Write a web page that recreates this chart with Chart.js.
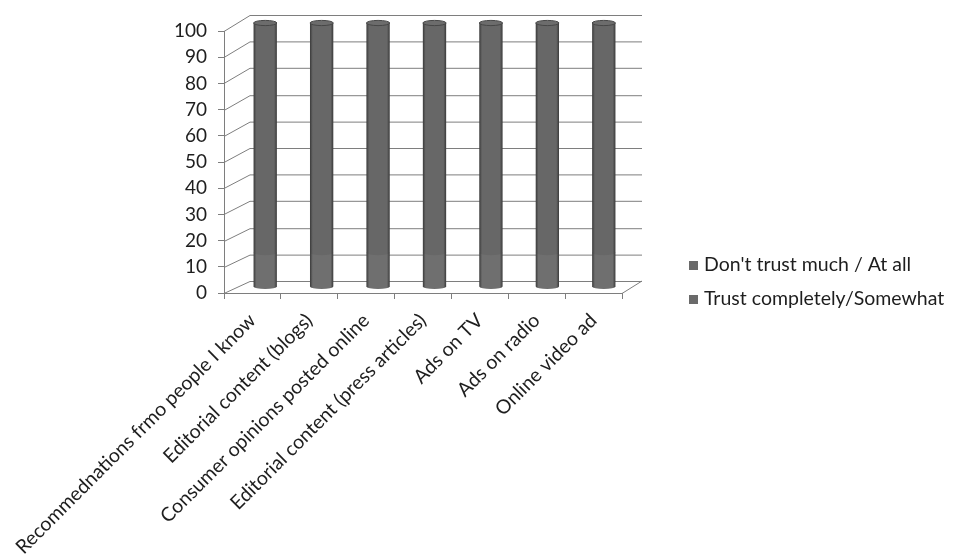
<!DOCTYPE html>
<html>
<head>
<meta charset="utf-8">
<script src="https://cdn.jsdelivr.net/npm/chart.js@4/dist/chart.umd.min.js"></script>
<style>
  html, body { margin: 0; padding: 0; background: #fff; }
  #wrap { width: 953px; height: 558px; position: relative; }
</style>
</head>
<body>
<div id="wrap"><canvas id="c"></canvas></div>
<script>
// ---- data ----
const categories = [
  'Recommednations frmo people I know',
  'Editorial content (blogs)',
  'Consumer opinions posted online',
  'Editorial content (press articles)',
  'Ads on TV',
  'Ads on radio',
  'Online video ad'
];
const seriesNames = ["Don't trust much / At all", 'Trust completely/Somewhat'];
const trustCompletelySomewhat = [13, 13, 13, 13, 13, 13, 13];
const dontTrustMuchAtAll = [87, 87, 87, 87, 87, 87, 87];
const yTicks = [0, 10, 20, 30, 40, 50, 60, 70, 80, 90, 100];

// ---- look ----
const FONT = 'Lato, "Open Sans", sans-serif';
const LINE = '#7e7e7e';
const TEXT = '#1e1e1e';
const COLORS = { dont: '#676767', trust: '#6f6f6f' };
// depth of the 3D box, as pixel offsets from the front edge to the back wall
const DEPTH = { dxLeft: 26, dxRight: 20, dyBottom: 12, dyTop: 16 };

function toDepth(chart, xf, yf, frac) {
  const a = chart.chartArea;
  const t = (xf - a.left) / (a.right - a.left);
  const u = (a.bottom - yf) / (a.bottom - a.top);
  const dx = DEPTH.dxLeft + (DEPTH.dxRight - DEPTH.dxLeft) * t;
  const dy = DEPTH.dyBottom + (DEPTH.dyTop - DEPTH.dyBottom) * u;
  return { x: xf + dx * frac, y: yf - dy * frac };
}

// side wall, back wall and floor lines
const wallsPlugin = {
  id: 'walls3d',
  beforeDatasetsDraw(chart) {
    const ctx = chart.ctx, a = chart.chartArea, ys = chart.scales.y;
    ctx.save();
    ctx.strokeStyle = LINE;
    ctx.lineWidth = 1;
    yTicks.forEach(v => {
      const yf = Math.round(ys.getPixelForValue(v)) + 0.5;
      const bl = toDepth(chart, a.left, yf, 1);
      const br = toDepth(chart, a.right, yf, 1);
      ctx.beginPath();
      ctx.moveTo(a.left, yf);
      ctx.lineTo(bl.x, bl.y);
      ctx.lineTo(br.x, br.y);
      ctx.stroke();
    });
    // right edge of the floor
    const fr = toDepth(chart, a.right, a.bottom, 1);
    ctx.beginPath();
    ctx.moveTo(a.right, a.bottom + 0.5);
    ctx.lineTo(fr.x, fr.y);
    ctx.stroke();
    ctx.restore();
  }
};

function shadeGradient(ctx, x0, x1, base) {
  const g = ctx.createLinearGradient(x0, 0, x1, 0);
  g.addColorStop(0, '#3a3a3a');
  g.addColorStop(0.12, base);
  g.addColorStop(0.5, base);
  g.addColorStop(0.88, base);
  g.addColorStop(1, '#3a3a3a');
  return g;
}

// stacked bars drawn as cylinders standing halfway into the box
const cylinderPlugin = {
  id: 'cylinders',
  beforeDatasetDraw() { return false; },
  afterDatasetsDraw(chart) {
    const ctx = chart.ctx;
    const n = chart.data.datasets.length;
    ctx.save();
    for (let d = 0; d < n; d++) {
      const meta = chart.getDatasetMeta(d);
      const base = chart.data.datasets[d].backgroundColor;
      meta.data.forEach(el => {
        const p = el.getProps(['x', 'y', 'base', 'width'], true);
        const top = toDepth(chart, p.x, p.y, 0.5);
        const bot = toDepth(chart, p.x, p.base, 0.5);
        const rx = p.width / 2, ry = 2.6;
        const x0 = top.x - rx, x1 = top.x + rx;
        ctx.fillStyle = shadeGradient(ctx, x0, x1, base);
        ctx.beginPath();
        ctx.moveTo(x0, top.y);
        ctx.lineTo(x0, bot.y);
        ctx.ellipse(top.x, bot.y, rx, ry, 0, Math.PI, 0, true);
        ctx.lineTo(x1, top.y);
        ctx.closePath();
        ctx.fill();
        if (d === n - 1) {
          ctx.fillStyle = '#6c6c6c';
          ctx.strokeStyle = '#474747';
          ctx.lineWidth = 1;
          ctx.beginPath();
          ctx.ellipse(top.x, top.y, rx, ry, 0, 0, Math.PI * 2);
          ctx.fill();
          ctx.stroke();
        }
      });
    }
    ctx.restore();
  }
};

// legend on the right
const legendPlugin = {
  id: 'sideLegend',
  afterDraw(chart) {
    const ctx = chart.ctx;
    const items = [
      { name: seriesNames[0], color: '#6a6a6a', y: 265 },
      { name: seriesNames[1], color: '#6a6a6a', y: 299 }
    ];
    ctx.save();
    ctx.font = '19.5px ' + FONT;
    ctx.textBaseline = 'middle';
    ctx.textAlign = 'left';
    items.forEach(it => {
      ctx.fillStyle = it.color;
      ctx.fillRect(689, it.y - 4, 9, 9);
      ctx.fillStyle = TEXT;
      ctx.fillText(it.name, 704, it.y);
    });
    ctx.restore();
  }
};

Chart.defaults.font.family = FONT;
Chart.defaults.color = TEXT;

new Chart(document.getElementById('c'), {
  type: 'bar',
  data: {
    labels: categories,
    datasets: [
      { label: seriesNames[1], data: trustCompletelySomewhat, backgroundColor: COLORS.trust,
        barPercentage: 0.41, categoryPercentage: 1 },
      { label: seriesNames[0], data: dontTrustMuchAtAll, backgroundColor: COLORS.dont,
        barPercentage: 0.41, categoryPercentage: 1 }
    ]
  },
  options: {
    responsive: true,
    maintainAspectRatio: false,
    animation: false,
    layout: { padding: { top: 31, right: 331, left: 0, bottom: 0 } },
    plugins: { legend: { display: false }, tooltip: { enabled: false } },
    scales: {
      x: {
        stacked: true,
        afterFit(s) { s.height = 265; s.paddingLeft = 0; s.paddingRight = 0; },
        border: { display: true, color: LINE },
        grid: { offset: true, drawOnChartArea: false, drawTicks: true, tickLength: 6, color: LINE },
        ticks: { autoSkip: false, minRotation: 45, maxRotation: 45, padding: 10,
                 font: { size: 19.5 }, color: TEXT }
      },
      y: {
        stacked: true,
        min: 0, max: 100,
        afterFit(s) { s.width = 224; },
        afterBuildTicks(s) { s.ticks = yTicks.map(v => ({ value: v })); },
        border: { display: true, color: LINE },
        grid: { drawOnChartArea: false, drawTicks: true, tickLength: 6, color: LINE },
        ticks: { padding: 11, font: { size: 19 }, color: TEXT }
      }
    }
  },
  plugins: [wallsPlugin, cylinderPlugin, legendPlugin]
});
</script>
</body>
</html>
